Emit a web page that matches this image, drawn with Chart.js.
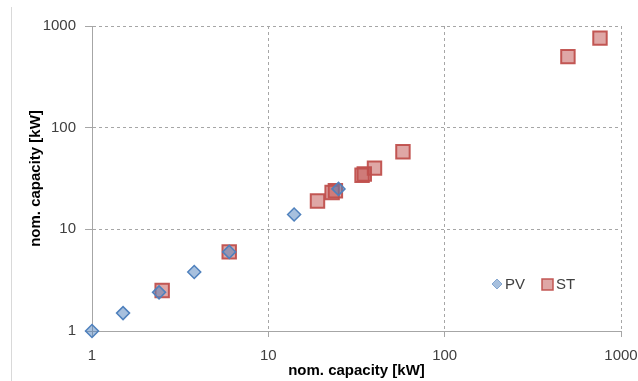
<!DOCTYPE html>
<html>
<head>
<meta charset="utf-8">
<script src="https://cdn.jsdelivr.net/npm/chart.js@4/dist/chart.umd.min.js"></script>
<style>
  html, body { margin: 0; padding: 0; background: #fff; }
  #wrap { width: 638px; height: 381px; position: relative; }
</style>
</head>
<body>
<div id="wrap"><canvas id="graphCanvas"></canvas></div>
<script>
const pvX = [1, 1.5, 2.4, 3.8, 6, 14, 25];
const pvY = [1, 1.5, 2.4, 3.8, 6, 14, 25];
const stX = [2.5, 6, 19, 23, 24, 34, 35, 40, 58, 500, 760];
const stY = [2.5, 6, 19, 23, 24, 34, 35, 40, 58, 500, 760];
const axisTicks = [1, 10, 100, 1000];
const seriesNames = ["PV", "ST"];

const FONT = "'Liberation Sans', Arial, sans-serif";
const pvFill = "rgba(79, 129, 189, 0.5)";
const pvLine = "rgba(79, 129, 189, 1)";
const stFill = "rgba(192, 80, 77, 0.5)";
const stLine = "rgba(192, 80, 77, 0.95)";

const toPoints = (xs, ys) => xs.map((x, i) => ({ x: x, y: ys[i] }));

// legend drawn inside the plot, like the original
const insideLegend = {
  id: "insideLegend",
  afterDatasetsDraw(chart) {
    const ctx = chart.ctx;
    const a = chart.chartArea;
    const x0 = a.right - 124;
    const y0 = a.bottom - 47;
    ctx.save();
    // diamond
    ctx.beginPath();
    ctx.moveTo(x0, y0 - 5);
    ctx.lineTo(x0 + 5, y0);
    ctx.lineTo(x0, y0 + 5);
    ctx.lineTo(x0 - 5, y0);
    ctx.closePath();
    ctx.fillStyle = pvFill;
    ctx.fill();
    ctx.strokeStyle = "rgba(79, 129, 189, 0.6)";
    ctx.lineWidth = 1;
    ctx.stroke();
    ctx.fillStyle = "#404040";
    ctx.font = "15px " + FONT;
    ctx.textBaseline = "middle";
    ctx.fillText(seriesNames[0], x0 + 8, y0 + 1);
    // square
    const sx = x0 + 45;
    ctx.fillStyle = stFill;
    ctx.fillRect(sx, y0 - 5, 11, 11);
    ctx.strokeStyle = stLine;
    ctx.lineWidth = 1.5;
    ctx.strokeRect(sx, y0 - 5, 11, 11);
    ctx.fillStyle = "#404040";
    ctx.fillText(seriesNames[1], sx + 14, y0 + 1);
    ctx.restore();
  },
  beforeDraw(chart) {
    const ctx = chart.ctx;
    ctx.save();
    ctx.strokeStyle = "#d9d9d9";
    ctx.lineWidth = 1;
    ctx.beginPath();
    ctx.moveTo(11.5, 7);
    ctx.lineTo(11.5, 381);
    ctx.stroke();
    ctx.restore();
  },
};

new Chart(document.getElementById("graphCanvas").getContext("2d"), {
  type: "scatter",
  data: {
    datasets: [
      {
        label: seriesNames[0],
        data: toPoints(pvX, pvY),
        pointStyle: "rectRot",
        pointRadius: 6.5,
        backgroundColor: pvFill,
        borderColor: pvLine,
        borderWidth: 1.5,
        clip: false,
      },
      {
        label: seriesNames[1],
        data: toPoints(stX, stY),
        pointStyle: "rect",
        pointRadius: 9.5,
        backgroundColor: stFill,
        borderColor: stLine,
        borderWidth: 2,
        clip: false,
      },
    ],
  },
  options: {
    responsive: true,
    maintainAspectRatio: false,
    animation: false,
    layout: { padding: { left: 0, top: 26, right: 17, bottom: 0 } },
    plugins: {
      legend: { display: false },
      tooltip: { enabled: false },
    },
    scales: {
      x: {
        type: "logarithmic",
        min: 1,
        max: 1000,
        afterBuildTicks: (scale) => {
          scale.ticks = axisTicks.map((v) => ({ value: v }));
        },
        afterFit: (scale) => {
          scale.height = 50;
          scale.paddingLeft = 0;
          scale.paddingRight = 0;
        },
        ticks: {
          color: "#404040",
          font: { family: FONT, size: 15 },
          padding: 10,
          maxRotation: 0,
          callback: (v) => String(v),
        },
        grid: {
          color: "#a6a6a6",
          tickLength: 6,
          tickColor: "#a6a6a6",
        },
        border: { color: "#a6a6a6", width: 1, dash: [3, 3] },
        title: {
          display: true,
          text: "nom. capacity [kW]",
          color: "#000",
          font: { family: FONT, size: 15, weight: "bold" },
          padding: { top: 0, bottom: 1 },
        },
      },
      y: {
        type: "logarithmic",
        min: 1,
        max: 1000,
        afterBuildTicks: (scale) => {
          scale.ticks = axisTicks.map((v) => ({ value: v }));
        },
        afterFit: (scale) => {
          scale.width = 92;
          scale.paddingTop = 0;
          scale.paddingBottom = 0;
        },
        ticks: {
          color: "#404040",
          font: { family: FONT, size: 15 },
          padding: 9,
          callback: (v) => String(v),
        },
        grid: {
          color: "#a6a6a6",
          tickLength: 7,
          tickColor: "#a6a6a6",
        },
        border: { color: "#a6a6a6", width: 1, dash: [3, 3] },
        title: {
          display: true,
          text: "nom. capacity [kW]",
          color: "#000",
          font: { family: FONT, size: 15, weight: "bold" },
          padding: { top: 27, bottom: 0 },
        },
      },
    },
  },
  plugins: [insideLegend],
});
</script>
</body>
</html>
